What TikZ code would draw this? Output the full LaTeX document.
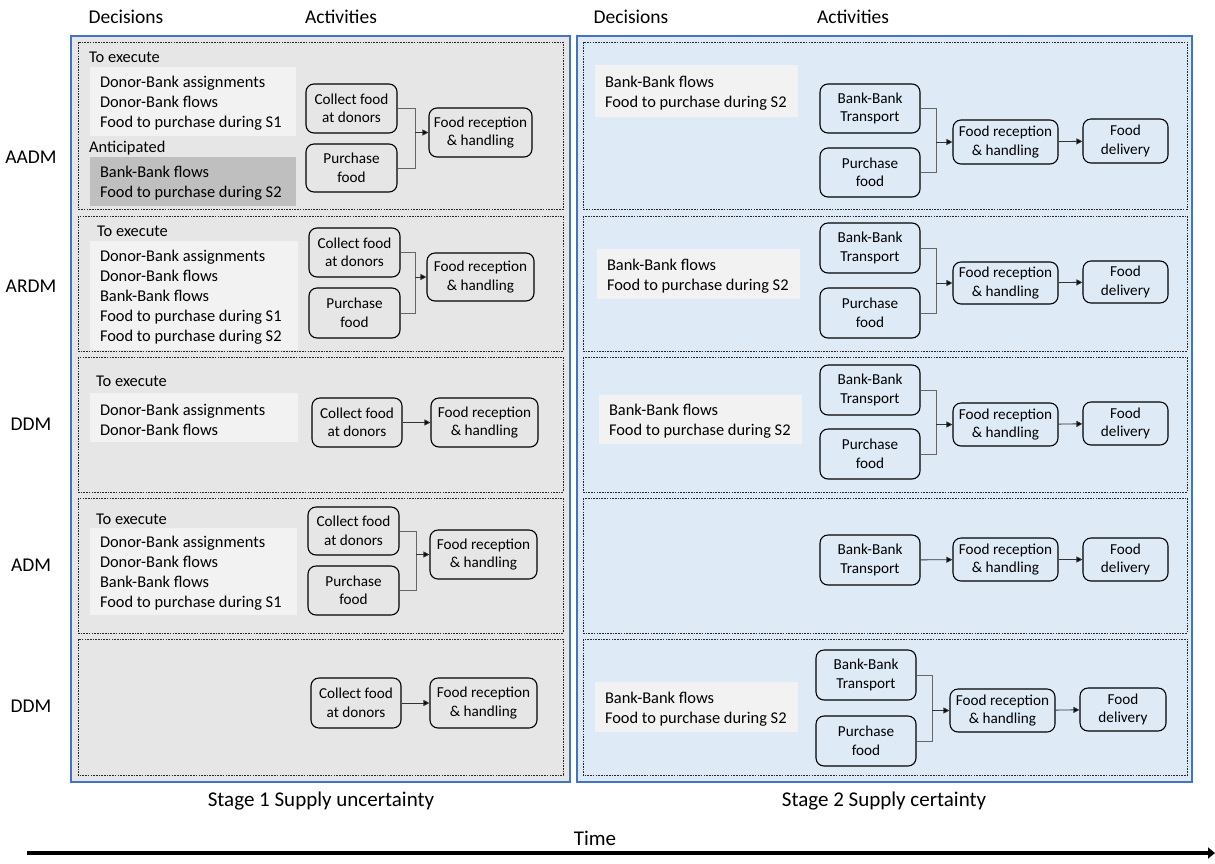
\documentclass[tikz,border=0pt]{standalone}
\usepackage{fontspec}
\setmainfont{Carlito}
\usetikzlibrary{arrows.meta}
\definecolor{panelblue}{HTML}{4472C4}
\definecolor{lgray}{HTML}{E7E6E6}
\definecolor{lblue}{HTML}{DEEBF7}
\definecolor{wbox}{HTML}{F2F2F2}
\definecolor{gbox}{HTML}{BFBFBF}
\tikzset{
  panelL/.style={draw=panelblue, line width=1.2pt, fill=lgray},
  panelR/.style={draw=panelblue, line width=1.2pt, fill=lblue},
  rowbox/.style={draw=black!85, line width=0.7pt, dash pattern=on 1.6pt off 1.1pt},
  actbox/.style={draw=black, line width=1.1pt, rounded corners=8pt, align=center, inner sep=0pt,
    font=\fontsize{15.2}{18.5}\selectfont},
  decfill/.style={inner sep=0pt},
  dectext/.style={anchor=west, align=left, inner sep=0pt, yshift=-2pt, font=\fontsize{16.4}{20}\selectfont},
  subhd/.style={anchor=west, inner sep=0pt, font=\fontsize{16.4}{20}\selectfont},
  colhd/.style={inner sep=0pt, font=\fontsize{19.5}{22}\selectfont},
  rowlab/.style={inner sep=0pt, font=\fontsize{19.5}{22}\selectfont},
  stagelab/.style={inner sep=0pt, font=\fontsize{21}{25}\selectfont},
  conn/.style={draw=black!60, line width=0.9pt},
  arr/.style={draw=black!80, line width=0.9pt, -{Triangle[length=6pt,width=6pt,fill=black]}},
}
\newcommand{\actnode}[6]{\node[actbox, minimum width={#4pt-#2pt}, minimum height={#5pt-#3pt}] (#1) at ({(#2+#4)/2},{(#3+#5)/2}) {#6};}
% name, x1, y1, x2, y2, fill, text
\newcommand{\decnode}[7]{%
  \node[decfill, fill=#6, minimum width={#4pt-#2pt}, minimum height={#5pt-#3pt}] (#1) at ({(#2+#4)/2},{(#3+#5)/2}) {};
  \node[dectext] (#1txt) at ([xshift=10pt]#1.west) {#7};}
\begin{document}
\begin{tikzpicture}[x=1pt, y=-1pt]
\useasboundingbox (0,0) rectangle (1215,863);
% panels
\draw[panelL] (71,36) rectangle (570,782);
\draw[panelR] (577,36) rectangle (1192,782);
\foreach \ya/\yb in {42/209, 216/351, 357/492, 498/633, 639/775} {
  \draw[rowbox] (78,\ya) rectangle (563,\yb);
  \draw[rowbox] (583,\ya) rectangle (1187,\yb);
}
% column headers
\node[colhd] (hd1) at (126,17) {Decisions};
\node[colhd] (ha1) at (341,17) {Activities};
\node[colhd] (hd2) at (631,17) {Decisions};
\node[colhd] (ha2) at (853,17) {Activities};
% row labels
\node[rowlab] (l1) at (31,157) {AADM};
\node[rowlab] (l2) at (31,286) {ARDM};
\node[rowlab] (l3) at (31,424) {DDM};
\node[rowlab] (l4) at (31,565) {ADM};
\node[rowlab] (l5) at (31,706) {DDM};
% ---------- left row 1 (AADM)
\node[subhd] (t1) at (89,57) {To execute};
\decnode{d1}{90}{67}{296}{136}{wbox}{Donor-Bank assignments\\Donor-Bank flows\\Food to purchase during S1}
\node[subhd] (a1) at (89,148) {Anticipated};
\decnode{d1b}{90}{157}{296}{206}{gbox}{Bank-Bank flows\\Food to purchase during S2}
\actnode{c1}{306}{84}{397}{133}{Collect food\\at donors}
\actnode{p1}{306}{144}{397}{192}{Purchase\\food}
\actnode{r1}{429}{108}{532}{157}{Food reception\\\& handling}
\coordinate (m1) at ([xshift=-13pt]r1.west);
\draw[conn] (c1.east) -| (m1);
\draw[conn] (p1.east) -| (m1);
\draw[arr] (m1) -- (r1.west);
% ---------- left row 2 (ARDM)
\node[subhd] (t2) at (97,231) {To execute};
\decnode{d2}{90}{241}{298}{350}{wbox}{Donor-Bank assignments\\Donor-Bank flows\\Bank-Bank flows\\Food to purchase during S1\\Food to purchase during S2}
\actnode{c2}{309}{228}{400}{277}{Collect food\\at donors}
\actnode{p2}{309}{288}{400}{338}{Purchase\\food}
\actnode{r2}{427}{253}{534}{301}{Food reception\\\& handling}
\coordinate (m2) at ([xshift=-11pt]r2.west);
\draw[conn] (c2.east) -| (m2);
\draw[conn] (p2.east) -| (m2);
\draw[arr] (m2) -- (r2.west);
% ---------- left row 3 (DDM)
\node[subhd] (t3) at (96,381) {To execute};
\decnode{d3}{90}{393}{298}{442}{wbox}{Donor-Bank assignments\\Donor-Bank flows}
\actnode{c3}{312}{398}{402}{447}{Collect food\\at donors}
\actnode{r3}{431}{398}{538}{447}{Food reception\\\& handling}
\draw[arr] (c3) -- (r3);
% ---------- left row 4 (ADM)
\node[subhd] (t4) at (96,519) {To execute};
\decnode{d4}{90}{528}{297}{615}{wbox}{Donor-Bank assignments\\Donor-Bank flows\\Bank-Bank flows\\Food to purchase during S1}
\actnode{c4}{308}{507}{399}{555}{Collect food\\at donors}
\actnode{p4}{308}{566}{399}{615}{Purchase\\food}
\actnode{r4}{430}{530}{537}{579}{Food reception\\\& handling}
\coordinate (m4) at ([xshift=-13pt]r4.west);
\draw[conn] (c4.east) -| (m4);
\draw[conn] (p4.east) -| (m4);
\draw[arr] (m4) -- (r4.west);
% ---------- left row 5 (DDM)
\actnode{c5}{311}{678}{401}{728}{Collect food\\at donors}
\actnode{r5}{430}{678}{537}{728}{Food reception\\\& handling}
\draw[arr] (c5) -- (r5);
% ---------- right row 1
\decnode{e1}{595}{65}{798}{117}{wbox}{Bank-Bank flows\\Food to purchase during S2}
\actnode{b1}{820}{84}{920}{133}{Bank-Bank\\Transport}
\actnode{q1}{820}{148}{920}{197}{Purchase\\food}
\actnode{s1}{953}{120}{1058}{164}{Food reception\\\& handling}
\actnode{f1}{1083}{119}{1168}{163}{Food\\delivery}
\coordinate (n1) at ([xshift=-16pt]s1.west);
\draw[conn] (b1.east) -| (n1);
\draw[conn] (q1.east) -| (n1);
\draw[arr] (n1) -- (s1.west);
\draw[arr] (s1) -- (f1);
% ---------- right row 2
\decnode{e2}{597}{249}{800}{299}{wbox}{Bank-Bank flows\\Food to purchase during S2}
\actnode{b2}{820}{223}{920}{273}{Bank-Bank\\Transport}
\actnode{q2}{820}{288}{920}{338}{Purchase\\food}
\actnode{s2}{953}{262}{1058}{304}{Food reception\\\& handling}
\actnode{f2}{1083}{261}{1168}{303}{Food\\delivery}
\coordinate (n2) at ([xshift=-16pt]s2.west);
\draw[conn] (b2.east) -| (n2);
\draw[conn] (q2.east) -| (n2);
\draw[arr] (n2) -- (s2.west);
\draw[arr] (s2) -- (f2);
% ---------- right row 3
\decnode{e3}{599}{395}{802}{444}{wbox}{Bank-Bank flows\\Food to purchase during S2}
\actnode{b3}{820}{365}{920}{415}{Bank-Bank\\Transport}
\actnode{q3}{820}{429}{920}{479}{Purchase\\food}
\actnode{s3}{953}{403}{1058}{446}{Food reception\\\& handling}
\actnode{f3}{1083}{402}{1168}{445}{Food\\delivery}
\coordinate (n3) at ([xshift=-16pt]s3.west);
\draw[conn] (b3.east) -| (n3);
\draw[conn] (q3.east) -| (n3);
\draw[arr] (n3) -- (s3.west);
\draw[arr] (s3) -- (f3);
% ---------- right row 4
\actnode{b4}{820}{535}{920}{585}{Bank-Bank\\Transport}
\actnode{s4}{953}{538}{1058}{581}{Food reception\\\& handling}
\actnode{f4}{1083}{538}{1168}{581}{Food\\delivery}
\draw[arr] (b4) -- (s4);
\draw[arr] (s4) -- (f4);
% ---------- right row 5
\decnode{e5}{595}{682}{798}{732}{wbox}{Bank-Bank flows\\Food to purchase during S2}
\actnode{b5}{816}{650}{916}{700}{Bank-Bank\\Transport}
\actnode{q5}{816}{716}{916}{766}{Purchase\\food}
\actnode{s5}{950}{689}{1055}{732}{Food reception\\\& handling}
\actnode{f5}{1080}{688}{1166}{731}{Food\\delivery}
\coordinate (n5) at ([xshift=-17pt]s5.west);
\draw[conn] (b5.east) -| (n5);
\draw[conn] (q5.east) -| (n5);
\draw[arr] (n5) -- (s5.west);
\draw[arr] (s5) -- (f5);
% ---------- stage labels and time axis
\node[stagelab] (st1) at (321,801) {Stage 1 Supply uncertainty};
\node[stagelab] (st2) at (884,801) {Stage 2 Supply certainty};
\node[stagelab] (tm) at (595,838) {Time};
\coordinate (ta) at (27,853);
\coordinate (tb) at (1215,853);
\draw[line width=3.2pt, -{Triangle[length=7pt,width=11pt]}] (ta) -- (tb);
\end{tikzpicture}
\end{document}
